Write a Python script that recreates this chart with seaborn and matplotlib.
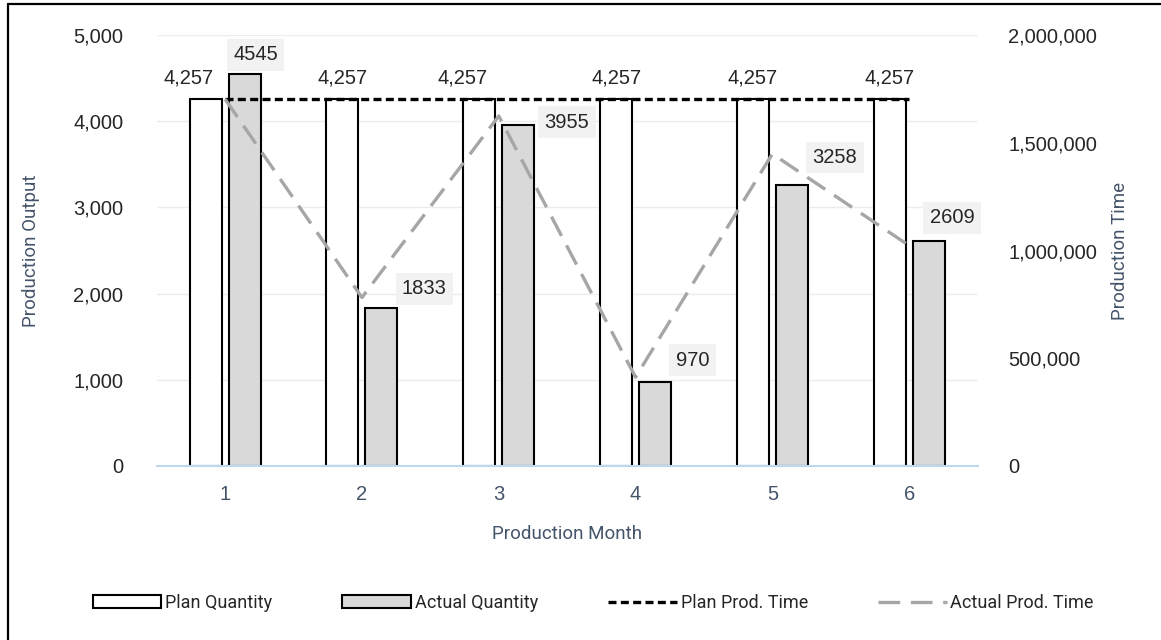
import numpy as np
import pandas as pd
import matplotlib
matplotlib.use("Agg")
import matplotlib.pyplot as plt
import seaborn as sns
from matplotlib.patches import Patch
from matplotlib.lines import Line2D
from matplotlib.ticker import FuncFormatter, MultipleLocator


months = [1, 2, 3, 4, 5, 6]
plan_qty = [4257, 4257, 4257, 4257, 4257, 4257]
actual_qty = [4545, 1833, 3955, 970, 3258, 2609]
plan_time = [1702800, 1702800, 1702800, 1702800, 1702800, 1702800]
actual_time = [1703000, 782000, 1625000, 412000, 1449000, 1023000]

# label offsets in points (hand placed like in the source chart)
plan_lbl_dx = [-12, 0, -12, 0, 0, 0]
act_lbl_off = [(8, 14), (31, 14), (35, 2), (27, 16), (31, 20), (17, 17)]

NARROW = ["Roboto", "DejaVu Sans"]
BLUEGREY = "#44546a"


def main():
    sns.set_style("white")
    plt.rcParams["font.family"] = ["Liberation Sans", "DejaVu Sans"]

    df = pd.DataFrame({
        "month": [str(m) for m in months] * 2,
        "kind": ["Plan Quantity"] * len(months) + ["Actual Quantity"] * len(months),
        "qty": plan_qty + actual_qty,
    })

    fig = plt.figure(figsize=(11.61, 6.40), dpi=100)
    ax = fig.add_axes([0.135, 0.272, 0.707, 0.673])

    sns.barplot(data=df, x="month", y="qty", hue="kind", ax=ax,
                palette={"Plan Quantity": "white", "Actual Quantity": "#d9d9d9"},
                saturation=1, edgecolor="black", linewidth=1.5,
                width=0.57, gap=0.18, legend=False)

    ax.set_ylim(0, 5000)
    ax.set_xlim(-0.5, len(months) - 0.5)
    ax.yaxis.set_major_locator(MultipleLocator(1000))
    ax.yaxis.set_major_formatter(FuncFormatter(lambda v, p: f"{v:,.0f}"))
    ax.grid(axis="y", color="#ececec", lw=1)
    ax.set_axisbelow(True)
    for s in ["top", "left", "right"]:
        ax.spines[s].set_visible(False)
    ax.spines["bottom"].set_color("#bdd7ee")
    ax.spines["bottom"].set_linewidth(1.5)
    ax.tick_params(axis="both", length=0, labelsize=14.5)
    ax.tick_params(axis="y", pad=24, labelcolor="#262626")
    ax.tick_params(axis="x", pad=14, labelcolor=BLUEGREY)

    ax.set_xlabel("Production Month", family=NARROW, fontsize=13.5, color=BLUEGREY)
    ax.set_ylabel("Production Output", family=NARROW, fontsize=13.5, color=BLUEGREY)
    ax.xaxis.set_label_coords(0.5, -0.137)
    ax.yaxis.set_label_coords(-0.142, 0.5)

    # secondary axis with production time
    ax2 = ax.twinx()
    pos = list(range(len(months)))
    sns.lineplot(x=pos, y=plan_time, ax=ax2, color="black", lw=2.4,
                 linestyle=(0, (2.4, 1.3)))
    sns.lineplot(x=pos, y=actual_time, ax=ax2, color="#a6a6a6", lw=2.4,
                 linestyle=(0, (6.5, 3.2)))
    ax2.set_ylim(0, 2000000)
    ax2.yaxis.set_major_locator(MultipleLocator(500000))
    ax2.yaxis.set_major_formatter(FuncFormatter(lambda v, p: f"{v:,.0f}"))
    for s in ["top", "left", "right", "bottom"]:
        ax2.spines[s].set_visible(False)
    ax2.tick_params(axis="y", length=0, labelsize=14.5, pad=22, labelcolor="#262626")
    ax2.set_ylabel("Production Time", family=NARROW, fontsize=13.5, color=BLUEGREY)
    ax2.yaxis.set_label_coords(1.162, 0.5)

    # data labels (drawn on ax2 so they stay above the lines)
    for i, (p, a) in enumerate(zip(plan_qty, actual_qty)):
        ax2.annotate(f"{p:,}", xy=(i - 0.142, p), xycoords=ax.transData,
                     xytext=(plan_lbl_dx[i], 15), textcoords="offset points",
                     ha="center", va="center", fontsize=14.5, color="#262626")
        dx, dy = act_lbl_off[i]
        ax2.annotate(f"{a}", xy=(i + 0.142, a), xycoords=ax.transData,
                     xytext=(dx, dy), textcoords="offset points",
                     ha="center", va="center", fontsize=14.5, color="#262626",
                     bbox=dict(boxstyle="square,pad=0.32", fc="#f2f2f2", ec="none"))

    handles = [
        Patch(facecolor="white", edgecolor="black", lw=1.5, label="Plan Quantity"),
        Patch(facecolor="#d9d9d9", edgecolor="black", lw=1.5, label="Actual Quantity"),
        Line2D([], [], color="black", lw=2.4, linestyle=(0, (2.4, 1.3)), label="Plan Prod. Time"),
        Line2D([], [], color="#a6a6a6", lw=2.4, linestyle=(0, (6.5, 3.2)), label="Actual Prod. Time"),
    ]
    fig.legend(handles=handles, loc="center", bbox_to_anchor=(0.511, 0.058), ncol=4,
               frameon=False, prop={"family": NARROW, "size": 13},
               handlelength=3.8, handleheight=0.7, handletextpad=0.2, columnspacing=3.9)

    # frame: only top and left edges show in the source picture
    x0, y0 = 8 / 1161, 1 - 4 / 640
    fig.add_artist(Line2D([x0, 1], [y0, y0], transform=fig.transFigure, color="black", lw=1.6))
    fig.add_artist(Line2D([x0, x0], [0, y0], transform=fig.transFigure, color="black", lw=1.6))

    fig.savefig("out.png", dpi=100)
    plt.close(fig)


if __name__ == "__main__":
    main()
